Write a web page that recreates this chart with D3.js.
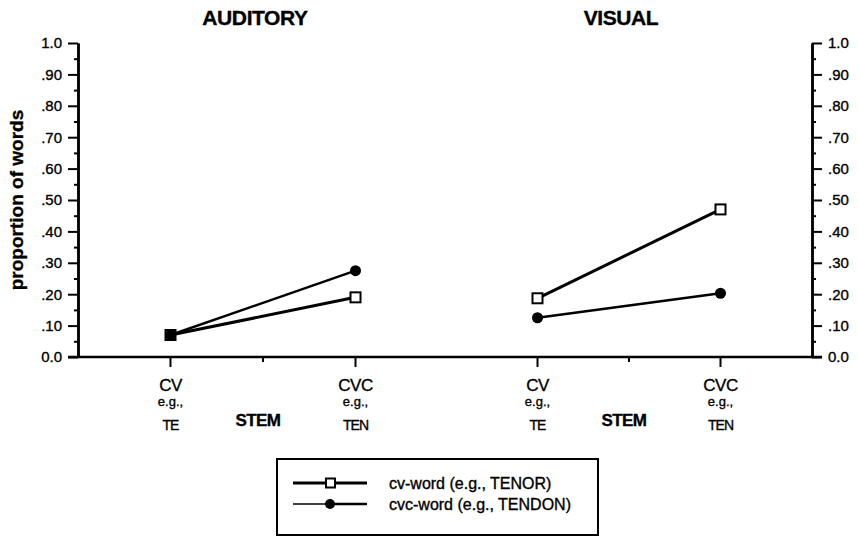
<!DOCTYPE html>
<html>
<head>
<meta charset="utf-8">
<script src="https://cdn.jsdelivr.net/npm/d3@7"></script>
<style>
  body { margin: 0; background: #fff; }
  text { font-family: "Liberation Sans", Arial, Helvetica, sans-serif; fill: #000; stroke: #000; stroke-width: 0.35px; }
</style>
</head>
<body>
<svg id="vis"></svg>
<script>
// data
const panels = ["AUDITORY", "VISUAL"];
const stems = ["CV", "CVC"];
const stemExamples = ["TE", "TEN"];
const cvWordAuditory = [0.07, 0.19];
const cvcWordAuditory = [0.07, 0.275];
const cvWordVisual = [0.187, 0.47];
const cvcWordVisual = [0.125, 0.203];
const yTicks = [0, 0.1, 0.2, 0.3, 0.4, 0.5, 0.6, 0.7, 0.8, 0.9, 1.0];
const yTickLabels = ["0.0", ".10", ".20", ".30", ".40", ".50", ".60", ".70", ".80", ".90", "1.0"];
const yMinorTicks = [0.05, 0.15, 0.25, 0.35, 0.45, 0.55, 0.65, 0.75, 0.85, 0.95];
const legendLabels = ["cv-word (e.g., TENOR)", "cvc-word (e.g., TENDON)"];

const W = 859, H = 536;
const svg = d3.select("#vis").attr("width", W).attr("height", H);

const y = d3.scaleLinear().domain([0, 1]).range([357, 43]);

// one point scale per panel
const xAud = d3.scalePoint().domain(stems).range([78, 448]).padding(0.5);
const xVis = d3.scalePoint().domain(stems).range([446, 812]).padding(0.5);

const panelData = [
  {name: panels[0], x: xAud, cv: cvWordAuditory, cvc: cvcWordAuditory},
  {name: panels[1], x: xVis, cv: cvWordVisual, cvc: cvcWordVisual}
];

function styleAxis(g) {
  g.select(".domain").attr("stroke", "#000").attr("stroke-width", 2.5);
  g.selectAll(".tick line").attr("stroke", "#000").attr("stroke-width", 2);
  g.selectAll(".tick text")
    .style("font-family", "'Liberation Sans', Arial, sans-serif")
    .style("font-size", "15px")
    .attr("fill", "#000");
}

// left y axis
const leftX = 78, rightX = 812;
svg.append("g").attr("transform", "translate(" + leftX + ",0)")
  .call(d3.axisLeft(y).tickValues(yMinorTicks).tickSize(4).tickSizeOuter(0).tickFormat(""))
  .call(styleAxis);
svg.append("g").attr("transform", "translate(" + leftX + ",0)")
  .call(d3.axisLeft(y).tickValues(yTicks).tickSize(10).tickSizeOuter(0).tickPadding(6)
    .tickFormat((d, i) => yTickLabels[i]))
  .call(styleAxis);

// right y axis
svg.append("g").attr("transform", "translate(" + rightX + ",0)")
  .call(d3.axisRight(y).tickValues(yMinorTicks).tickSize(4).tickSizeOuter(0).tickFormat(""))
  .call(styleAxis);
svg.append("g").attr("transform", "translate(" + rightX + ",0)")
  .call(d3.axisRight(y).tickValues(yTicks).tickSize(10).tickSizeOuter(0).tickPadding(6)
    .tickFormat((d, i) => yTickLabels[i]))
  .call(styleAxis);

// baseline across both panels
svg.append("line")
  .attr("x1", leftX - 10).attr("x2", rightX + 10)
  .attr("y1", y(0)).attr("y2", y(0))
  .attr("stroke", "#000").attr("stroke-width", 2.5);

// y title
svg.append("text")
  .attr("transform", "translate(23," + y(0.5) + ") rotate(-90)")
  .attr("text-anchor", "middle")
  .style("font-size", "19px").style("font-weight", "bold")
  .text("proportion of words");

const cvLine = d3.line().x(d => d.x).y(d => y(d.v));

panelData.forEach(function(p) {
  const range = p.x.range();
  const mid = (range[0] + range[1]) / 2;

  // panel title
  svg.append("text")
    .attr("x", mid - 8).attr("y", 25)
    .attr("text-anchor", "middle")
    .style("font-size", "21px").style("font-weight", "bold").style("letter-spacing", "-0.4px")
    .text(p.name);

  // stem ticks
  stems.forEach(function(s, i) {
    const sx = p.x(s);
    svg.append("line")
      .attr("x1", sx).attr("x2", sx).attr("y1", y(0)).attr("y2", y(0) + 10)
      .attr("stroke", "#000").attr("stroke-width", 2);
    svg.append("text").attr("x", sx).attr("y", 391).attr("text-anchor", "middle")
      .style("font-size", "17px").style("letter-spacing", "-0.5px").text(s);
    svg.append("text").attr("x", sx).attr("y", 406).attr("text-anchor", "middle")
      .style("font-size", "13px").text("e.g.,");
    svg.append("text").attr("x", sx).attr("y", 430).attr("text-anchor", "middle")
      .style("font-size", "14px").style("letter-spacing", "-1px").text(stemExamples[i]);
  });
  svg.append("line")
    .attr("x1", mid).attr("x2", mid).attr("y1", y(0)).attr("y2", y(0) + 5)
    .attr("stroke", "#000").attr("stroke-width", 2);
  svg.append("text").attr("x", mid - 5).attr("y", 426).attr("text-anchor", "middle")
    .style("font-size", "17px").style("font-weight", "bold").style("letter-spacing", "-0.6px")
    .text("STEM");

  const cvPts = stems.map((s, i) => ({x: p.x(s), v: p.cv[i]}));
  const cvcPts = stems.map((s, i) => ({x: p.x(s), v: p.cvc[i]}));

  svg.append("path").attr("d", cvLine(cvcPts))
    .attr("fill", "none").attr("stroke", "#000").attr("stroke-width", 2.5);
  svg.append("path").attr("d", cvLine(cvPts))
    .attr("fill", "none").attr("stroke", "#000").attr("stroke-width", 3);

  svg.selectAll(null).data(cvPts).enter().append("rect")
    .attr("x", d => d.x - 5).attr("y", d => y(d.v) - 5)
    .attr("width", 10).attr("height", 10)
    .attr("fill", "#fff").attr("stroke", "#000").attr("stroke-width", 2);
  svg.selectAll(null).data(cvcPts).enter().append("circle")
    .attr("cx", d => d.x).attr("cy", d => y(d.v)).attr("r", 5.5)
    .attr("fill", "#000");
});

// legend
const legend = svg.append("g");
legend.append("rect")
  .attr("x", 277).attr("y", 459).attr("width", 321).attr("height", 76)
  .attr("fill", "#fff").attr("stroke", "#000").attr("stroke-width", 2);
const rowY = [483, 504];
legendLabels.forEach(function(label, i) {
  if (i === 0) {
    legend.append("line")
      .attr("x1", 293).attr("x2", 367).attr("y1", rowY[i]).attr("y2", rowY[i])
      .attr("stroke", "#000").attr("stroke-width", 3);
    legend.append("rect").attr("x", 326).attr("y", rowY[i] - 4.5)
      .attr("width", 9).attr("height", 9)
      .attr("fill", "#fff").attr("stroke", "#000").attr("stroke-width", 2);
  } else {
    legend.append("line")
      .attr("x1", 293).attr("x2", 330).attr("y1", rowY[i]).attr("y2", rowY[i])
      .attr("stroke", "#000").attr("stroke-width", 1.5);
    legend.append("line")
      .attr("x1", 330).attr("x2", 367).attr("y1", rowY[i]).attr("y2", rowY[i])
      .attr("stroke", "#000").attr("stroke-width", 2.5);
    legend.append("circle").attr("cx", 330).attr("cy", rowY[i]).attr("r", 5)
      .attr("fill", "#000");
  }
  legend.append("text").attr("x", 389).attr("y", rowY[i] + 6)
    .style("font-size", "16px").text(label);
});
</script>
</body>
</html>
